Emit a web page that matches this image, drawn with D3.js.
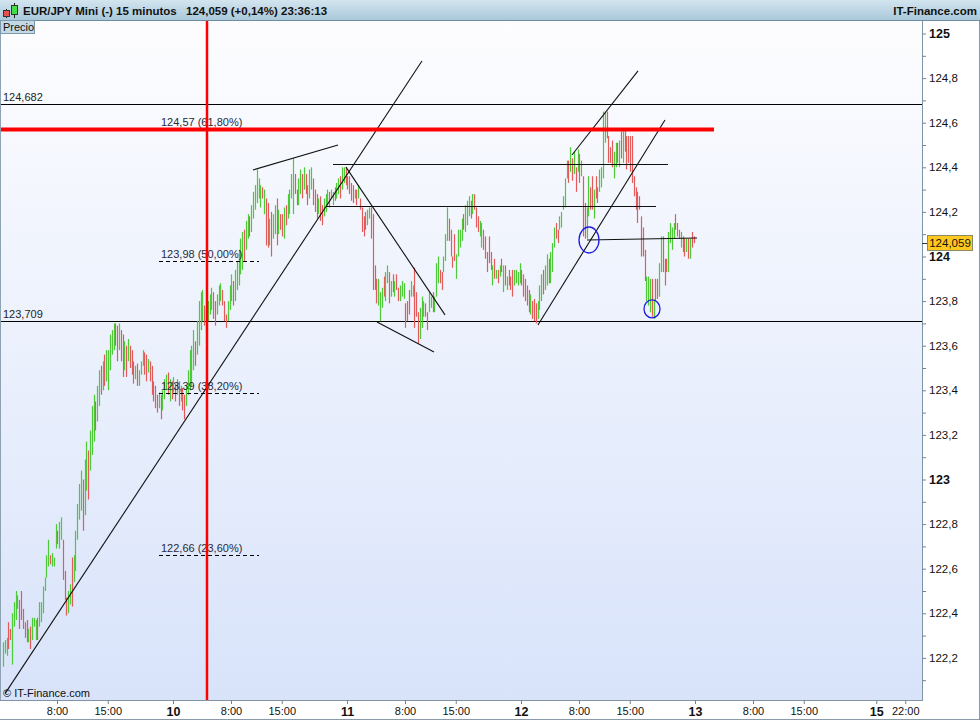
<!DOCTYPE html>
<html><head><meta charset="utf-8">
<script src="https://cdn.jsdelivr.net/npm/d3@7"></script>
<style>
body{margin:0;background:#fff;}
svg{display:block;font-family:"Liberation Sans",Arial,sans-serif;}
</style>
</head><body>
<svg id="c" width="980" height="720"></svg>
<script>
// ---------- DATA ----------
const highs=[
122.27,122.28,122.29,122.36,122.33,122.40,122.45,122.50,122.48,122.46,
122.50,122.42,122.36,122.37,122.33,122.34,122.38,122.38,122.37,122.38,
122.45,122.45,122.52,122.56,122.66,122.73,122.66,122.67,122.65,122.80,
122.77,122.81,122.83,122.73,122.59,122.47,122.50,122.53,122.65,122.66,
122.77,122.89,122.98,123.04,123.00,123.09,123.17,123.13,123.22,123.33,
123.38,123.35,123.42,123.49,123.51,123.53,123.56,123.58,123.58,123.65,
123.67,123.70,123.70,123.69,123.70,123.67,123.65,123.62,123.60,123.63,
123.60,123.58,123.53,123.51,123.52,123.49,123.53,123.58,123.57,123.56,
123.54,123.53,123.51,123.44,123.42,123.38,123.39,123.38,123.40,123.45,
123.47,123.48,123.45,123.44,123.46,123.43,123.45,123.44,123.42,123.41,
123.38,123.42,123.49,123.58,123.60,123.67,123.62,123.71,123.80,123.84,
123.85,123.78,123.76,123.80,123.83,123.86,123.84,123.80,123.83,123.87,
123.88,123.85,123.80,123.74,123.80,123.87,123.92,123.89,123.94,123.98,
124.03,124.08,124.11,124.12,124.16,124.19,124.18,124.23,124.29,124.32,
124.39,124.35,124.32,124.31,124.30,124.26,124.24,124.17,124.20,124.19,
124.23,124.26,124.21,124.19,124.19,124.22,124.23,124.28,124.30,124.37,
124.44,124.37,124.30,124.35,124.39,124.37,124.40,124.37,124.32,124.39,
124.40,124.35,124.30,124.28,124.26,124.27,124.23,124.26,124.28,124.30,
124.29,124.30,124.29,124.31,124.33,124.35,124.36,124.40,124.40,124.40,
124.36,124.36,124.33,124.32,124.30,124.30,124.32,124.26,124.22,124.18,
124.20,124.21,124.22,124.22,124.19,123.96,123.90,123.90,123.84,123.86,
123.91,123.93,123.96,123.93,123.89,123.92,123.89,123.92,123.86,123.87,
123.89,123.88,123.79,123.80,123.85,123.89,123.87,123.95,123.84,123.75,
123.77,123.82,123.80,123.79,123.75,123.84,123.82,123.84,123.82,123.97,
124.00,123.94,123.93,124.00,124.10,124.22,124.17,124.12,124.00,124.10,
124.01,124.12,124.12,124.17,124.19,124.23,124.25,124.27,124.25,124.28,
124.28,124.22,124.18,124.16,124.15,124.12,124.09,124.02,124.09,124.02,
123.96,123.99,123.94,123.94,123.96,123.99,123.96,123.96,123.91,123.94,
123.91,123.94,123.94,123.94,123.93,123.97,123.94,123.92,123.90,123.87,
123.85,123.83,123.80,123.81,123.79,123.80,123.87,123.92,123.94,123.96,
124.01,123.99,124.02,124.06,124.13,124.15,124.12,124.18,124.20,124.27,
124.35,124.43,124.43,124.49,124.44,124.47,124.40,124.48,124.46,124.43,
124.36,124.24,124.22,124.36,124.31,124.36,124.30,124.36,124.31,124.39,
124.40,124.65,124.65,124.65,124.54,124.49,124.52,124.47,124.51,124.51,
124.52,124.56,124.57,124.57,124.54,124.54,124.54,124.54,124.36,124.31,
124.29,124.27,124.18,124.13,124.03,123.91,123.91,123.90,123.90,123.81,
123.90,123.90,123.97,124.09,124.09,123.99,123.99,124.11,124.15,124.13,
124.15,124.19,124.15,124.12,124.11,124.09,124.08,124.08,124.08,124.08,
124.11,124.09];
const lows=[
122.16,122.22,122.21,122.24,122.28,122.17,122.34,122.37,122.42,122.33,
122.37,122.33,122.29,122.27,122.27,122.24,122.28,122.34,122.28,122.28,
122.34,122.36,122.40,122.50,122.56,122.61,122.62,122.61,122.61,122.69,
122.71,122.69,122.73,122.55,122.46,122.39,122.40,122.44,122.43,122.54,
122.59,122.73,122.82,122.86,122.77,122.84,122.95,122.91,123.04,123.11,
123.17,123.22,123.26,123.33,123.38,123.40,123.42,123.44,123.40,123.49,
123.56,123.58,123.60,123.53,123.58,123.53,123.46,123.49,123.46,123.53,
123.50,123.47,123.43,123.45,123.42,123.42,123.47,123.51,123.47,123.44,
123.48,123.44,123.38,123.35,123.32,123.30,123.32,123.27,123.31,123.36,
123.40,123.38,123.35,123.36,123.39,123.35,123.38,123.33,123.35,123.31,
123.27,123.33,123.38,123.40,123.42,123.49,123.51,123.56,123.60,123.67,
123.71,123.69,123.66,123.71,123.74,123.76,123.72,123.69,123.74,123.78,
123.80,123.78,123.71,123.68,123.71,123.76,123.80,123.78,123.80,123.85,
123.87,123.92,123.94,123.98,124.03,124.08,124.09,124.11,124.17,124.21,
124.24,124.26,124.22,124.26,124.19,124.05,124.04,124.05,124.00,124.08,
124.10,124.05,124.10,124.12,124.09,124.08,124.14,124.17,124.19,124.26,
124.19,124.28,124.23,124.23,124.28,124.26,124.30,124.28,124.23,124.26,
124.30,124.23,124.20,124.17,124.19,124.16,124.14,124.18,124.20,124.23,
124.22,124.26,124.23,124.25,124.26,124.28,124.26,124.30,124.33,124.32,
124.30,124.28,124.25,124.24,124.26,124.23,124.26,124.21,124.11,124.09,
124.12,124.14,124.17,124.08,123.85,123.85,123.79,123.78,123.71,123.77,
123.82,123.80,123.88,123.79,123.82,123.84,123.82,123.85,123.80,123.80,
123.82,123.81,123.68,123.71,123.74,123.82,123.82,123.68,123.73,123.61,
123.63,123.68,123.73,123.73,123.67,123.75,123.77,123.75,123.75,123.82,
123.88,123.88,123.85,123.93,123.98,124.07,124.07,124.00,123.95,123.98,
123.90,124.00,124.04,124.07,124.12,124.11,124.14,124.18,124.17,124.19,
124.21,124.13,124.11,124.09,124.04,124.03,123.99,123.93,123.97,123.94,
123.87,123.90,123.90,123.88,123.91,123.93,123.84,123.87,123.85,123.87,
123.85,123.82,123.87,123.88,123.87,123.88,123.87,123.82,123.80,123.78,
123.75,123.74,123.72,123.71,123.70,123.72,123.76,123.80,123.83,123.85,
123.87,123.88,123.88,123.93,124.04,124.08,124.06,124.12,124.13,124.21,
124.22,124.35,124.33,124.38,124.34,124.37,124.29,124.38,124.33,124.36,
124.09,124.08,124.08,124.18,124.21,124.21,124.17,124.26,124.24,124.29,
124.31,124.35,124.51,124.53,124.42,124.42,124.40,124.35,124.40,124.42,
124.40,124.44,124.42,124.47,124.39,124.42,124.38,124.33,124.27,124.21,
124.15,124.21,124.00,124.00,123.89,123.80,123.78,123.75,123.73,123.72,
123.80,123.81,123.82,123.93,123.93,123.87,123.93,123.93,124.06,124.03,
124.08,124.12,124.09,124.08,124.04,124.02,124.00,124.02,123.99,123.99,
124.04,124.06];
const ups=[
1,1,1,0,0,1,1,1,1,0, 0,0,0,0,1,0,1,1,1,0, 1,1,1,1,1,1,0,1,1,1, 0,1,1,0,0,0,1,1,0,1,
1,1,1,1,0,1,1,0,1,1, 1,0,1,1,0,1,0,1,1,1, 1,1,0,0,1,0,0,1,0,1, 0,0,0,1,0,1,1,1,0,0,
1,0,0,0,0,0,1,0,1,1, 1,0,1,0,1,0,1,0,1,0, 0,1,1,1,1,1,0,1,1,1, 1,0,0,1,1,1,0,0,1,1,
1,0,0,0,1,1,1,0,1,1, 1,1,1,0,1,1,0,1,1,1, 1,1,1,0,1,0,0,1,0,1, 1,0,1,0,0,1,0,1,1,1,
1,0,0,1,1,0,1,0,0,1, 1,0,0,0,1,0,0,1,1,1, 0,1,1,0,1,1,0,1,1,0, 0,0,0,0,1,0,1,0,0,0,
0,1,1,0,0,0,0,1,1,1, 0,1,1,0,1,0,1,0,0,1, 1,1,0,0,0,1,1,0,0,0, 1,1,1,0,0,1,1,0,1,1,
1,0,0,1,1,1,0,0,0,0, 1,1,1,1,0,1,1,1,0,1, 0,0,0,1,1,0,0,0,0,0, 1,0,1,0,1,0,1,0,1,0,
0,0,1,1,1,1,0,0,0,0, 0,1,0,0,0,1,1,1,0,1, 1,0,1,1,1,0,0,1,1,1, 1,1,0,1,0,1,0,1,0,1,
0,0,1,1,0,0,1,0,0,1, 1,1,1,0,0,0,0,1,1,0, 1,0,1,0,0,0,0,0,0,0, 0,0,0,0,0,1,1,1,0,1,
0,0,1,1,0,0,0,1,1,1, 1,0,0,0,1,0,0,1,0,1, 0,0];
const startHour=0.55;      // hours after day 9, 00:00 of first bar
const barHours=0.25;       // 15 minutes
const lastPrice=124.059;

const xTickHours=[8,15,24,32,39,48,56,63,72,80,87,96,104,111,121,125];
const xTickLabels=["8:00","15:00","10","8:00","15:00","11","8:00","15:00","12","8:00","15:00","13","8:00","15:00","15","22:00"];
const yMajorTicks=[122.2,122.4,122.6,122.8,123,123.2,123.4,123.6,123.8,124,124.2,124.4,124.6,124.8,125];
const yMinorTicks=[122.1,122.3,122.5,122.7,122.9,123.1,123.3,123.5,123.7,123.9,124.1,124.3,124.5,124.7,124.9];

const levelPrices=[124.682,123.709];
const levelLabels=["124,682","123,709"];
const fibPrices=[124.57,123.98,123.39,122.66];
const fibLabels=["124,57 (61,80%)","123,98 (50,00%)","123,39 (38,20%)","122,66 (23,60%)"];
const fibSpan=[22.07,35.86];
const redHPrice=124.57, redHEnd=98.62;
const redVHour=28.69;
const trendLines=[
 [[0.83,122.04],[58.34,124.877]],
 [[35.03,124.388],[46.76,124.50]],
 [[46.07,124.415],[92.28,124.415]],
 [[45.10,124.226],[90.62,124.226]],
 [[47.86,124.401],[61.52,123.738]],
 [[52.14,123.706],[60.00,123.572]],
 [[79.03,124.455],[88.14,124.832]],
 [[74.34,123.693],[91.86,124.612]],
 [[81.10,124.074],[96.28,124.083]]
];
const circles=[[81.38,124.074],[90.07,123.765]];

// ---------- CHART ----------
const svg=d3.select("#c");
const P={l:0,r:922,t:20,b:700};
const x=d3.scaleLinear().domain([0,128]).range([-1,927]);
const y=d3.scaleLinear().domain([122,125]).range([702.5,33.5]);

const defs=svg.append("defs");
const bg=defs.append("linearGradient").attr("id","bg").attr("x1",0).attr("y1",0).attr("x2",0).attr("y2",1);
bg.append("stop").attr("offset","0%").attr("stop-color","#fdfdff");
bg.append("stop").attr("offset","100%").attr("stop-color","#d8e3fa");
const hg=defs.append("linearGradient").attr("id","hg").attr("x1",0).attr("y1",0).attr("x2",0).attr("y2",1);
hg.append("stop").attr("offset","0%").attr("stop-color","#d3e5ef");
hg.append("stop").attr("offset","100%").attr("stop-color","#a9c8da");
defs.append("clipPath").attr("id","clip").append("rect")
  .attr("x",P.l).attr("y",P.t).attr("width",P.r-P.l).attr("height",P.b-P.t);

svg.append("rect").attr("width",980).attr("height",720).attr("fill","#fff");
svg.append("rect").attr("x",P.l).attr("y",P.t).attr("width",P.r-P.l).attr("height",P.b-P.t).attr("fill","url(#bg)");

const g=svg.append("g").attr("clip-path","url(#clip)");
const crisp=v=>Math.round(v)+0.5;

// level lines
g.selectAll("line.lvl").data(levelPrices).join("line")
  .attr("x1",P.l).attr("x2",P.r)
  .attr("y1",d=>crisp(y(d))).attr("y2",d=>crisp(y(d)))
  .attr("stroke","#000").attr("stroke-width",1);
g.selectAll("text.lvl").data(levelPrices).join("text")
  .attr("x",3).attr("y",d=>y(d)-3).attr("font-size",11).attr("fill","#222")
  .text((d,i)=>levelLabels[i]);

// bars
const N=Math.min(highs.length,lows.length,ups.length);
const idx=d3.range(N);
const bx=i=>crisp(x(startHour+i*barHours));
g.selectAll("line.bar").data(idx).join("line")
  .attr("x1",bx).attr("x2",bx)
  .attr("y1",i=>y(highs[i])).attr("y2",i=>Math.max(y(lows[i]),y(highs[i])+1))
  .attr("stroke",i=>ups[i]?"#4cca38":"#e25a5a").attr("stroke-width",1.2);

// fib levels
g.selectAll("line.fib").data(fibPrices).join("line")
  .attr("x1",x(fibSpan[0])).attr("x2",x(fibSpan[1]))
  .attr("y1",d=>crisp(y(d))).attr("y2",d=>crisp(y(d)))
  .attr("stroke","#000").attr("stroke-dasharray","4,3");
g.selectAll("text.fib").data(fibPrices).join("text")
  .attr("x",x(fibSpan[0])+2).attr("y",d=>y(d)-3).attr("font-size",11).attr("fill","#2a2a3a")
  .text((d,i)=>fibLabels[i]);

// trend lines (horizontal ones drawn pixel-crisp)
g.selectAll("line.tl").data(trendLines).join("line")
  .attr("x1",d=>x(d[0][0])).attr("x2",d=>x(d[1][0]))
  .attr("y1",d=>d[0][1]===d[1][1]?crisp(y(d[0][1])):y(d[0][1]))
  .attr("y2",d=>d[0][1]===d[1][1]?crisp(y(d[1][1])):y(d[1][1]))
  .attr("stroke","#111").attr("stroke-width",1.1);

// red lines
g.append("line").attr("x1",P.l).attr("x2",x(redHEnd))
  .attr("y1",y(redHPrice)).attr("y2",y(redHPrice))
  .attr("stroke","#ff0000").attr("stroke-width",4);
g.append("line").attr("x1",x(redVHour)).attr("x2",x(redVHour))
  .attr("y1",P.t).attr("y2",P.b).attr("stroke","#ff0000").attr("stroke-width",2.5);

// circles
g.selectAll("ellipse").data(circles).join("ellipse")
  .attr("cx",d=>x(d[0])).attr("cy",d=>y(d[1]))
  .attr("rx",(d,i)=>i?8:10).attr("ry",(d,i)=>i?9:13)
  .attr("fill","none").attr("stroke","#1d1de0").attr("stroke-width",1.3);

// copyright
svg.append("text").attr("x",3).attr("y",697).attr("font-size",11).attr("fill","#111").text("\u00a9 IT-Finance.com");

// borders
svg.append("line").attr("x1",0.5).attr("x2",0.5).attr("y1",P.t).attr("y2",P.b).attr("stroke","#8da2b2");
svg.append("line").attr("x1",0).attr("x2",P.r).attr("y1",P.b+0.5).attr("y2",P.b+0.5).attr("stroke","#7f95a6");
svg.append("line").attr("x1",P.r+0.5).attr("x2",P.r+0.5).attr("y1",P.t).attr("y2",P.b+1).attr("stroke","#7f95a6");
svg.append("line").attr("x1",0).attr("x2",980).attr("y1",719.5).attr("y2",719.5).attr("stroke","#8a9aa8");
svg.append("line").attr("x1",979.5).attr("x2",979.5).attr("y1",20).attr("y2",720).attr("stroke","#8a9aa8");

// y axis
const yMinor=svg.append("g").attr("transform",`translate(${P.r},0)`)
  .call(d3.axisRight(y).tickValues(yMinorTicks).tickSize(4).tickFormat(""));
const yMajor=svg.append("g").attr("transform",`translate(${P.r},0)`)
  .call(d3.axisRight(y).tickValues(yMajorTicks).tickSize(4).tickPadding(3)
    .tickFormat(d=>Number.isInteger(d)?String(d):d3.format(".1f")(d).replace(".",",")));
[yMinor,yMajor].forEach(a=>{a.select(".domain").remove();a.selectAll("line").attr("stroke","#6f8595");});
yMajor.selectAll("text").attr("font-family","Liberation Sans,Arial,sans-serif").attr("fill","#111")
  .attr("font-size",d=>Number.isInteger(d)?12.5:11.5)
  .attr("font-weight",d=>Number.isInteger(d)?"bold":"normal");

// last price box
const ly=y(lastPrice);
svg.append("line").attr("x1",P.r).attr("x2",P.r+5).attr("y1",crisp(ly)).attr("y2",crisp(ly)).attr("stroke","#333");
svg.append("rect").attr("x",927.5).attr("y",Math.round(ly)-7.5).attr("width",45).attr("height",15)
  .attr("fill","#ffc81e").attr("stroke","#8a8a6a");
svg.append("text").attr("x",950).attr("y",ly+4).attr("text-anchor","middle").attr("font-size",11.5).attr("fill","#111").text(d3.format(".3f")(lastPrice).replace(".",","));

// x axis
const xa=svg.append("g").attr("transform",`translate(0,${P.b})`)
  .call(d3.axisBottom(x).tickValues(xTickHours).tickSize(4).tickPadding(3).tickFormat((d,i)=>xTickLabels[i]));
xa.select(".domain").remove();
xa.selectAll("line").attr("stroke","#6f8595");
xa.selectAll("text").attr("font-family","Liberation Sans,Arial,sans-serif").attr("fill","#111")
  .attr("font-size",(d,i)=>xTickLabels[i].includes(":")?11:12.5)
  .attr("font-weight",(d,i)=>xTickLabels[i].includes(":")?"normal":"bold");

// header
svg.append("rect").attr("width",980).attr("height",20).attr("fill","url(#hg)");
svg.append("line").attr("x1",0).attr("x2",980).attr("y1",20.5).attr("y2",20.5).attr("stroke","#6e8ea2");
// icon
svg.append("line").attr("x1",6.5).attr("x2",6.5).attr("y1",9).attr("y2",18).attr("stroke","#222");
svg.append("rect").attr("x",3.5).attr("y",10.5).attr("width",6).attr("height",6).attr("fill","#e85050").attr("stroke","#333");
svg.append("line").attr("x1",14.5).attr("x2",14.5).attr("y1",3).attr("y2",18).attr("stroke","#222");
svg.append("rect").attr("x",11.5).attr("y",5.5).attr("width",6).attr("height",9).attr("fill","#44dd44").attr("stroke","#333");
const hdr=[["EUR/JPY Mini (-)",23],["15 minutos",116],["124,059 (+0,14%)",186],["23:36:13",281]];
svg.selectAll("text.hdr").data(hdr).join("text").attr("x",d=>d[1]).attr("y",15)
  .attr("font-size",11.5).attr("font-weight","bold").attr("fill","#111").text(d=>d[0]);
svg.append("text").attr("x",977).attr("y",15).attr("text-anchor","end").attr("font-size",11.5)
  .attr("font-weight","bold").attr("fill","#111").text("IT-Finance.com");

// Precio tab
svg.append("rect").attr("x",0.5).attr("y",20.5).attr("width",34).attr("height",13).attr("fill","#c4d9e6").attr("stroke","#7d98aa");
svg.append("text").attr("x",3).attr("y",31).attr("font-size",11).attr("fill","#111").text("Precio");
</script>
</body></html>
